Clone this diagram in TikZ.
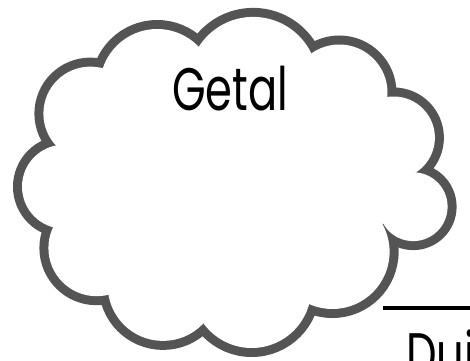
\documentclass[tikz,border=0pt]{standalone}
\usepackage{fontspec}
\newfontfamily\schoolfont{Poppins}
\begin{document}
\begin{tikzpicture}[x=1pt,y=1pt,
	rand/.style={draw=black!67,line width=18pt},
	woord/.style={font=\schoolfont\fontsize{60}{60}\selectfont,inner sep=0}]
	\useasboundingbox (0,0) rectangle (470,360);
	\clip (0,0) rectangle (470,360);

	% wolk: bollen (x/y/straal)
	\def\bollen{90.4/246.4/47, 157.2/273.7/57.3, 253.2/278.6/64.5,
		339.3/267.3/48.2, 393.7/222.3/41.2, 413.2/153.3/34.4,
		332.4/108.2/57.2, 251.7/71.5/59.5, 163/74.4/55.3,
		96.6/112/48.2, 64/173.3/42}
	\foreach \x/\y/\r [count=\i] in \bollen {
		\coordinate (b\i) at (\x,\y);
		\draw [rand] (b\i) circle (\r);
	}
	\foreach \x/\y/\r [count=\i] in \bollen
		\fill [white] (b\i) circle (\r);
	\fill [white] (b1) \foreach \i in {2,...,11} {-- (b\i)} -- cycle;

	\node [woord,anchor=base west] (getal) at (172,250) {\scalebox{0.72}[1]{Getal}};

	% schrijflijn
	\coordinate (lijn) at (383,52);
	\draw [line width=3.5pt] (lijn) -- ++(90,0);
	\node [woord,anchor=base west] (dui) at (406,-15) {\scalebox{0.72}[1]{Dui}};
\end{tikzpicture}
\end{document}
